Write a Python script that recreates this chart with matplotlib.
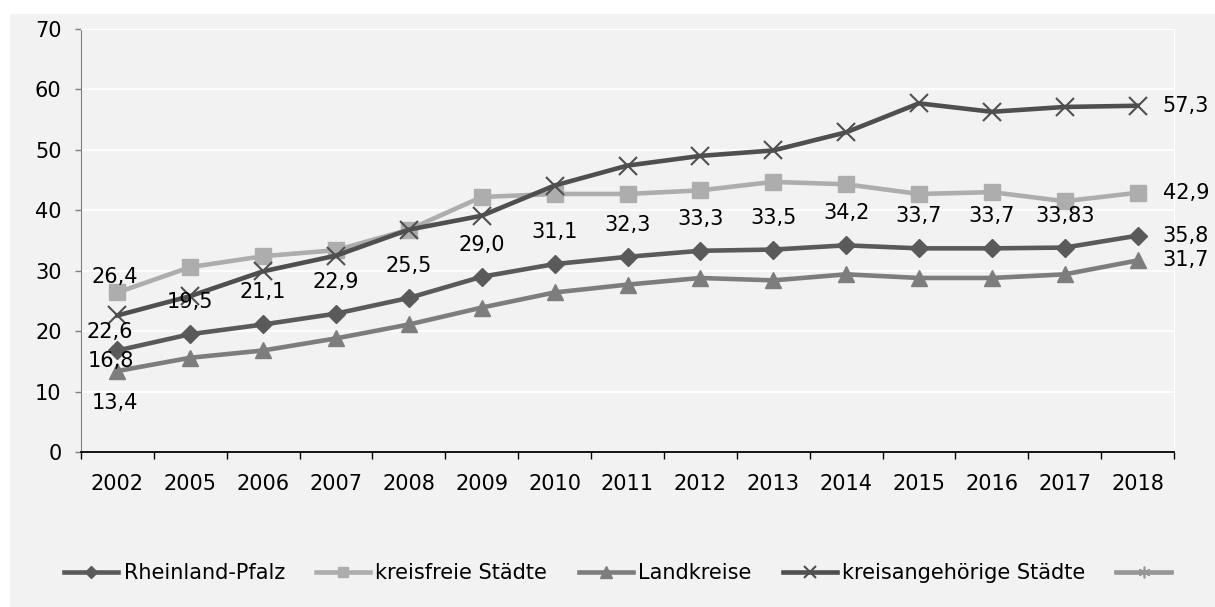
import numpy as np
import matplotlib
matplotlib.use('Agg')
import matplotlib.pyplot as plt
from matplotlib.lines import Line2D
from matplotlib.patches import Rectangle

years = ['2002', '2005', '2006', '2007', '2008', '2009', '2010', '2011',
         '2012', '2013', '2014', '2015', '2016', '2017', '2018']
rlp = [16.8, 19.5, 21.1, 22.9, 25.5, 29.0, 31.1, 32.3, 33.3, 33.5, 34.2, 33.7, 33.7, 33.83, 35.8]
kfs = [26.4, 30.6, 32.4, 33.4, 36.8, 42.2, 42.7, 42.7, 43.3, 44.7, 44.3, 42.7, 43.0, 41.5, 42.9]
lk = [13.4, 15.6, 16.8, 18.8, 21.1, 23.9, 26.4, 27.7, 28.8, 28.4, 29.4, 28.8, 28.8, 29.4, 31.7]
kas = [22.6, 25.8, 29.9, 32.5, 36.8, 39.1, 44.1, 47.4, 49.0, 49.9, 52.9, 57.7, 56.3, 57.1, 57.3]
names = ['Rheinland-Pfalz', 'kreisfreie Städte', 'Landkreise', 'kreisangehörige Städte', '']

# label texts as printed in the chart
rlp_lbl = ['16,8', '19,5', '21,1', '22,9', '25,5', '29,0', '31,1', '32,3', '33,3', '33,5',
           '34,2', '33,7', '33,7', '33,83', '35,8']
first_lbl = {'kfs': '26,4', 'kas': '22,6', 'lk': '13,4'}
last_lbl = {'kfs': '42,9', 'kas': '57,3', 'lk': '31,7'}

plt.rcParams['font.family'] = 'DejaVu Sans'
plt.rcParams['font.size'] = 15

bg = '#f2f2f2'
c_rlp, c_kfs, c_lk, c_kas, c_5 = '#5a5a5a', '#adadad', '#7d7d7d', '#4f4f4f', '#969696'

fig = plt.figure(figsize=(12.15, 6.07), dpi=100)
fig.patch.set_facecolor('white')
fig.patches.append(Rectangle((10 / 1215, 0), 1, 1 - 14 / 607, transform=fig.transFigure,
                             facecolor=bg, edgecolor='none', zorder=-10))
ax = fig.add_axes([81 / 1215, 1 - 452 / 607, (1174 - 81) / 1215, (452 - 29) / 607])
ax.set_facecolor(bg)

x = np.arange(len(years))
lw = 3.3
l1, = ax.plot(x, rlp, color=c_rlp, lw=lw, marker='D', ms=9, zorder=3)
l2, = ax.plot(x, kfs, color=c_kfs, lw=lw, marker='s', ms=11, zorder=3)
l3, = ax.plot(x, lk, color=c_lk, lw=lw, marker='^', ms=12, zorder=3)
l4, = ax.plot(x, kas, color=c_kas, lw=lw, marker='x', ms=13, mew=1.5, zorder=3)
l5 = Line2D([], [], color=c_5, lw=lw, marker=(6, 2, 0), ms=12, mew=1.2)

# data labels
for i in range(1, len(years) - 1):
    ax.annotate(rlp_lbl[i], (x[i], rlp[i]), xytext=(0, 32), textcoords='offset pixels',
                ha='center', va='center')
ax.annotate(rlp_lbl[0], (x[0], rlp[0]), xytext=(-7, -11), textcoords='offset pixels',
            ha='center', va='center')
ax.annotate(first_lbl['kfs'], (x[0], kfs[0]), xytext=(-3, 15), textcoords='offset pixels',
            ha='center', va='center')
ax.annotate(first_lbl['kas'], (x[0], kas[0]), xytext=(-8, -17), textcoords='offset pixels',
            ha='center', va='center')
ax.annotate(first_lbl['lk'], (x[0], lk[0]), xytext=(-3, -32), textcoords='offset pixels',
            ha='center', va='center')
for s, lab in [(rlp, rlp_lbl[-1]), (kfs, last_lbl['kfs']), (kas, last_lbl['kas']), (lk, last_lbl['lk'])]:
    ax.annotate(lab, (x[-1], s[-1]), xytext=(25, 0), textcoords='offset pixels',
                ha='left', va='center', annotation_clip=False)

ax.set_xlim(-0.5, len(years) - 0.5)
ax.set_ylim(0, 70)
ax.set_yticks(np.arange(0, 71, 10))
ax.set_xticks(x)
ax.set_xticklabels(years)
ax.set_xticks(np.arange(-0.5, len(years), 1), minor=True)
ax.tick_params(axis='x', which='major', length=0, pad=16)
ax.tick_params(axis='x', which='minor', length=5, width=1, color='black')
ax.tick_params(axis='y', length=4, width=1, color='#7f7f7f', pad=10)

ax.grid(axis='y', color='white', lw=1.3)
ax.set_axisbelow(True)
ax.spines['top'].set_color('white')
ax.spines['right'].set_color('white')
ax.spines['left'].set_color('#7f7f7f')
ax.spines['bottom'].set_color('black')
ax.spines['bottom'].set_linewidth(1.3)
ax.spines['bottom'].set_zorder(4)

fig.legend([l1, l2, l3, l4, l5], names, loc='center', bbox_to_anchor=(620 / 1215, 1 - 573 / 607),
           ncol=5, frameon=False, handlelength=2.6, handletextpad=0.25, columnspacing=1.5,
           borderpad=0, markerscale=0.7)

fig.savefig('out.png', dpi=100, facecolor=fig.get_facecolor())
